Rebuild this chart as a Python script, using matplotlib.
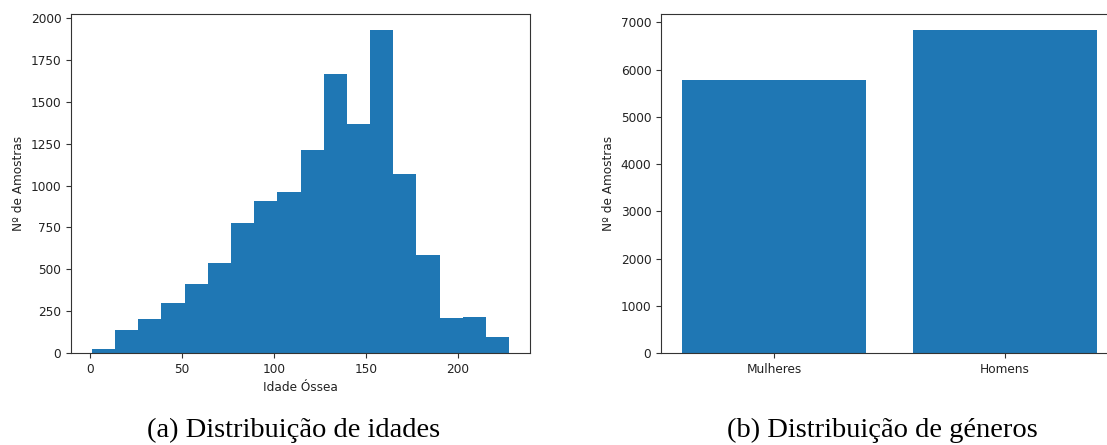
import numpy as np
import matplotlib
matplotlib.use("Agg")
import matplotlib.pyplot as plt

# Histogram of bone age (months), 18 bins between min and max age
age_min, age_max = 1, 228
n_bins = 18
age_counts = [24, 139, 205, 298, 413, 537, 777, 910, 964, 1213,
              1664, 1368, 1928, 1070, 584, 211, 217, 95]

# Gender counts
genders = ['Mulheres', 'Homens']
gender_counts = [5778, 6833]

plt.rcParams['font.size'] = 8.7
plt.rcParams['axes.edgecolor'] = '#333333'
plt.rcParams['xtick.color'] = '#333333'
plt.rcParams['ytick.color'] = '#333333'
plt.rcParams['xtick.labelcolor'] = '#222222'
plt.rcParams['ytick.labelcolor'] = '#222222'

fig = plt.figure(figsize=(11.07, 4.45), dpi=100)
W, H = 1107, 445

# left: histogram
ax1 = fig.add_axes([71 / W, 1 - 353 / H, 459 / W, 339 / H])
edges = np.linspace(age_min, age_max, n_bins + 1)
ax1.hist(edges[:-1], bins=edges, weights=age_counts, color='#1f77b4')
ax1.set_xlabel('Idade Óssea', color='#222222')
ax1.set_ylabel('Nº de Amostras', color='#222222')

# right: bar chart (axes runs past the right edge, as in the cropped original)
ax2 = fig.add_axes([661 / W, 1 - 353 / H, 457 / W, 339 / H])
ax2.bar(genders, gender_counts, color='#1f77b4')
ax2.set_ylabel('Nº de Amostras', color='#222222')

cap_font = dict(family=['Liberation Serif', 'DejaVu Serif'], fontsize=20.5)
fig.text(294 / W, 1 - 430 / H, '(a) Distribuição de idades', ha='center', va='center', **cap_font)
fig.text(882 / W, 1 - 430 / H, '(b) Distribuição de géneros', ha='center', va='center', **cap_font)

fig.savefig('out.png', dpi=100)
